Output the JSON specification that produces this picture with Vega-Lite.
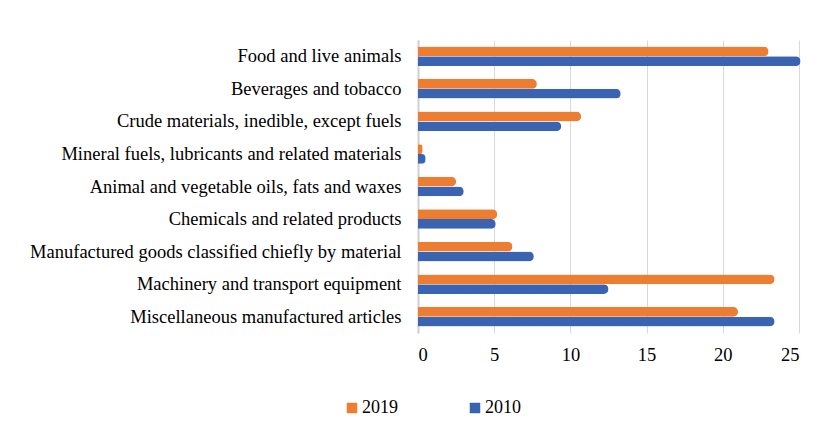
{
  "$schema": "https://vega.github.io/schema/vega-lite/v6.json",
  "width": 381,
  "height": 293,
  "autosize": {"type": "none"},
  "padding": {"left": 418, "top": 40, "right": 38, "bottom": 97},
  "background": "white",
  "data": {
    "values": [
      {"category": "Food and live animals", "year": "2019", "value": 23.0},
      {"category": "Food and live animals", "year": "2010", "value": 25.1},
      {"category": "Beverages and tobacco ", "year": "2019", "value": 7.8},
      {"category": "Beverages and tobacco ", "year": "2010", "value": 13.3},
      {"category": "Crude materials, inedible, except fuels ", "year": "2019", "value": 10.7},
      {"category": "Crude materials, inedible, except fuels ", "year": "2010", "value": 9.4},
      {"category": "Mineral fuels, lubricants and related materials", "year": "2019", "value": 0.3},
      {"category": "Mineral fuels, lubricants and related materials", "year": "2010", "value": 0.5},
      {"category": "Animal and vegetable oils, fats and waxes", "year": "2019", "value": 2.5},
      {"category": "Animal and vegetable oils, fats and waxes", "year": "2010", "value": 3.0},
      {"category": "Chemicals and related products", "year": "2019", "value": 5.2},
      {"category": "Chemicals and related products", "year": "2010", "value": 5.1},
      {"category": "Manufactured goods classified chiefly by material", "year": "2019", "value": 6.2},
      {"category": "Manufactured goods classified chiefly by material", "year": "2010", "value": 7.6},
      {"category": "Machinery and transport equipment", "year": "2019", "value": 23.4},
      {"category": "Machinery and transport equipment", "year": "2010", "value": 12.5},
      {"category": "Miscellaneous manufactured articles", "year": "2019", "value": 21.0},
      {"category": "Miscellaneous manufactured articles", "year": "2010", "value": 23.4}
    ]
  },
  "mark": {"type": "bar", "cornerRadiusEnd": 5},
  "encoding": {
    "y": {
      "field": "category",
      "type": "nominal",
      "sort": null,
      "scale": {"paddingInner": 0.4, "paddingOuter": 0.2},
      "axis": {
        "title": null,
        "ticks": false,
        "labelPadding": 17,
        "labelLimit": 420,
        "labelFontSize": 18.5,
        "domainColor": "#D0D0D0",
        "domainWidth": 2
      }
    },
    "yOffset": {"field": "year", "type": "nominal", "sort": ["2019", "2010"]},
    "x": {
      "field": "value",
      "type": "quantitative",
      "scale": {"domain": [0, 25], "nice": false},
      "axis": {
        "title": null,
        "values": [0, 5, 10, 15, 20, 25],
        "grid": true,
        "gridColor": "#D9D9D9",
        "domain": false,
        "ticks": false,
        "labelFontSize": 18.5,
        "labelPadding": 12
      }
    },
    "color": {
      "field": "year",
      "type": "nominal",
      "sort": ["2019", "2010"],
      "scale": {"domain": ["2019", "2010"], "range": ["#ED7D31", "#3A63B2"]},
      "legend": {
        "title": null,
        "orient": "none",
        "direction": "horizontal",
        "legendX": -75,
        "legendY": 359,
        "symbolType": "square",
        "symbolSize": 110,
        "symbolStrokeWidth": 0,
        "labelFontSize": 18,
        "labelOffset": 1,
        "columnPadding": 68
      }
    }
  },
  "config": {
    "view": {"stroke": null},
    "font": "Liberation Serif",
    "axis": {"labelFont": "Liberation Serif", "labelColor": "#000000"},
    "legend": {"labelFont": "Liberation Serif", "labelColor": "#000000"}
  }
}
